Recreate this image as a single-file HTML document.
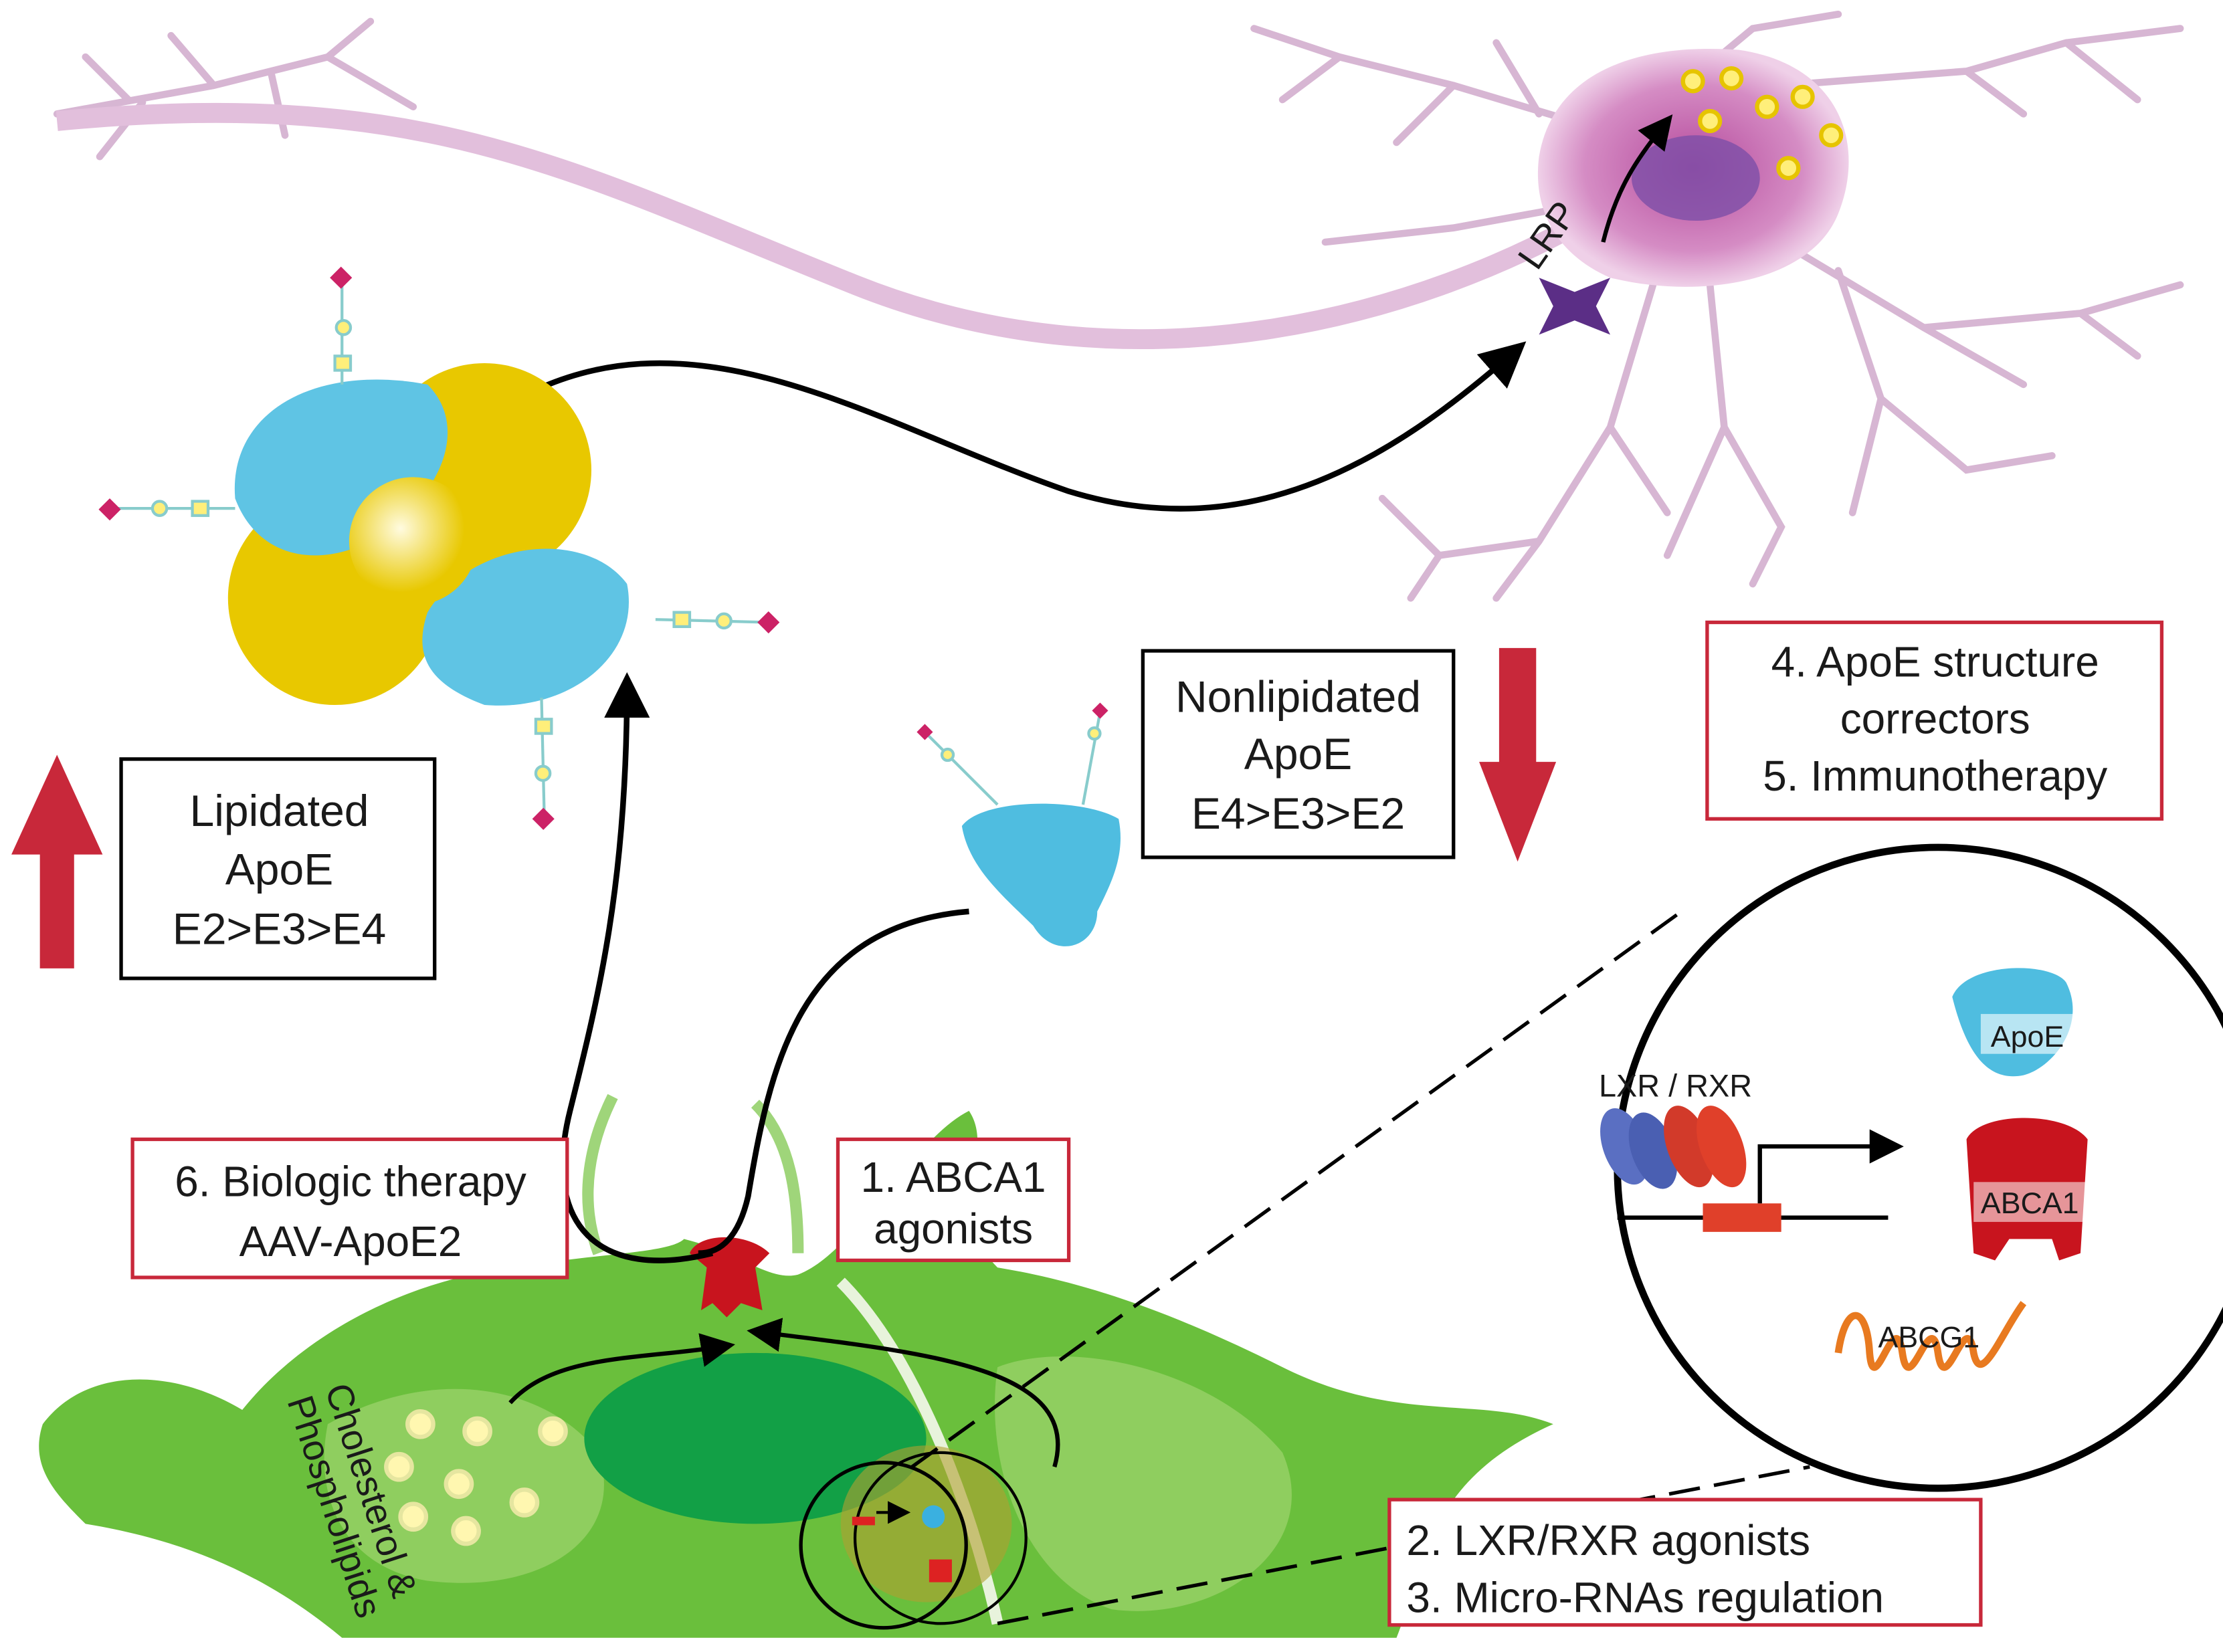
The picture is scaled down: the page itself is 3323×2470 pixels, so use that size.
<!DOCTYPE html>
<html><head><meta charset="utf-8"><style>
html,body{margin:0;padding:0;background:#fff;}
svg{display:block;width:3323px;height:2470px;}
text{font-family:"Liberation Sans",sans-serif;fill:#1a1a1a;}
</style></head><body>
<svg viewBox="0 0 1560 1160" preserveAspectRatio="none" xmlns="http://www.w3.org/2000/svg">
<defs>
<marker id="ah" markerWidth="8" markerHeight="8" refX="6" refY="4" orient="auto" markerUnits="strokeWidth">
<path d="M0,0 L8,4 L0,8 Z" fill="#000"/></marker>
<radialGradient id="yb" cx="40%" cy="40%"><stop offset="0" stop-color="#fffbe0"/><stop offset="1" stop-color="#e8c800"/></radialGradient>
<radialGradient id="pk" cx="50%" cy="50%"><stop offset="0" stop-color="#b54a9c"/><stop offset="0.7" stop-color="#d58cc4"/><stop offset="1" stop-color="#efd0e8"/></radialGradient>
</defs>
<rect width="1560" height="1160" fill="#fff"/>
<g stroke="#d7b6d3" stroke-width="5" fill="none" stroke-linecap="round">
<path d="M40,80 L150,60 L230,40 M150,60 L120,25 M230,40 L260,15 M230,40 L290,75 M90,70 L60,40 M100,72 L70,110 M190,50 L200,95"/>
<path d="M1120,90 L1020,60 L940,40 M1020,60 L980,100 M940,40 L880,20 M940,40 L900,70 M1080,80 L1050,30 M1130,140 L1020,160 L930,170"/>
<path d="M1200,45 L1230,20 L1290,10 M1250,60 L1380,50 L1450,30 M1380,50 L1420,80 M1450,30 L1530,20 M1450,30 L1500,70"/>
<path d="M1250,170 L1350,230 L1460,220 L1530,200 M1350,230 L1420,270 M1460,220 L1500,250 M1290,190 L1320,280 L1300,360 M1320,280 L1380,330 L1440,320"/>
<path d="M1160,200 L1130,300 L1080,380 L1050,420 M1130,300 L1170,360 M1080,380 L1010,390 L970,350 M1010,390 L990,420"/>
<path d="M1200,200 L1210,300 L1250,370 L1230,410 M1210,300 L1170,390"/>
</g>
<path d="M40,85 C300,60 400,120 600,200 C800,280 1000,220 1120,150" stroke="#e2bfdc" stroke-width="14" fill="none"/>
<path d="M1080,110 C1090,50 1150,30 1220,35 C1290,45 1310,100 1290,150 C1270,200 1190,210 1130,195 C1095,180 1075,150 1080,110Z" fill="url(#pk)"/>
<ellipse cx="1190" cy="125" rx="45" ry="30" fill="#7d4fa7" opacity="0.8"/>
<g fill="#ffef7a" stroke="#e6c400" stroke-width="3">
<circle cx="1188" cy="57" r="7"/><circle cx="1215" cy="55" r="7"/><circle cx="1240" cy="75" r="7"/><circle cx="1265" cy="68" r="7"/><circle cx="1200" cy="85" r="7"/><circle cx="1285" cy="95" r="7"/><circle cx="1255" cy="118" r="7"/>
</g>
<path d="M1080,195 L1105,205 L1130,195 L1120,215 L1130,235 L1105,225 L1080,235 L1090,215Z" fill="#5b2e86"/>
<text x="1060" y="185" font-size="26" transform="rotate(-55 1075 170)">LRP</text>
<path d="M1125,170 C1135,130 1150,110 1170,85" stroke="#000" stroke-width="3" fill="none" marker-end="url(#ah)"/>
<path d="M380,272 C500,220 620,300 750,345 C880,385 980,320 1065,245" stroke="#000" stroke-width="4" fill="none" marker-end="url(#ah)"/>
<g>
<circle cx="340" cy="330" r="75" fill="#e8c800"/>
<circle cx="235" cy="420" r="75" fill="#e8c800"/>
<path d="M165,350 C160,290 220,255 300,270 C330,300 310,350 260,380 C220,400 180,390 165,350Z" fill="#5fc4e4"/>
<path d="M300,430 C330,380 410,370 440,410 C450,460 400,500 340,495 C300,480 290,460 300,430Z" fill="#5fc4e4"/>
<circle cx="290" cy="380" r="45" fill="url(#yb)"/>
</g>
<g stroke="#8cc" stroke-width="2" fill="#ffef7a">
<line x1="240" y1="270" x2="240" y2="195"/><line x1="75" y1="357" x2="165" y2="357"/><line x1="460" y1="435" x2="540" y2="437"/><line x1="380" y1="490" x2="382" y2="575"/>
<circle cx="241" cy="230" r="5"/><rect x="235" y="250" width="11" height="10"/><circle cx="112" cy="357" r="5"/><rect x="135" y="352" width="11" height="10"/><circle cx="508" cy="436" r="5"/><rect x="473" y="430" width="11" height="10"/><circle cx="381" cy="543" r="5"/><rect x="376" y="505" width="11" height="10"/>
</g>
<g fill="#cc2266"><rect x="234" y="190" width="11" height="11" transform="rotate(45 240 195)"/><rect x="72" y="352" width="11" height="11" transform="rotate(45 77 357)"/><rect x="534" y="432" width="11" height="11" transform="rotate(45 540 437)"/><rect x="376" y="570" width="11" height="11" transform="rotate(45 382 575)"/></g>
<path d="M675,580 C690,560 760,560 785,575 C790,600 780,620 770,640 C770,665 740,675 725,650 C705,630 680,610 675,580Z" fill="#4fbde0"/>
<g stroke="#8cc" stroke-width="2" fill="#ffef7a"><line x1="700" y1="565" x2="650" y2="515"/><line x1="760" y1="565" x2="772" y2="500"/><circle cx="665" cy="530" r="4"/><circle cx="768" cy="515" r="4"/></g>
<rect x="645" y="510" width="8" height="8" fill="#cc2266" transform="rotate(45 649 514)"/><rect x="768" y="495" width="8" height="8" fill="#cc2266" transform="rotate(45 772 499)"/>
<path d="M28,680 L28,600 L8,600 L40,530 L72,600 L52,600 L52,680Z" fill="#c8283a"/>
<path d="M1052,455 L1078,455 L1078,535 L1092,535 L1065,605 L1038,535 L1052,535Z" fill="#c8283a"/>
<rect x="85" y="533" width="220" height="154" fill="#fff" stroke="#000" stroke-width="2.5"/>
<text font-size="31" text-anchor="middle"><tspan x="196" y="580">Lipidated</tspan><tspan x="196" y="621">ApoE</tspan><tspan x="196" y="663">E2&gt;E3&gt;E4</tspan></text>
<rect x="802" y="457" width="218" height="145" fill="#fff" stroke="#000" stroke-width="2.5"/>
<text font-size="31" text-anchor="middle"><tspan x="911" y="500">Nonlipidated</tspan><tspan x="911" y="540">ApoE</tspan><tspan x="911" y="582">E4&gt;E3&gt;E2</tspan></text>
<rect x="1198" y="437" width="319" height="138" fill="#fff" stroke="#c8283a" stroke-width="2.5"/>
<text font-size="30" text-anchor="middle"><tspan x="1358" y="475">4. ApoE structure</tspan><tspan x="1358" y="515">correctors</tspan><tspan x="1358" y="555">5. Immunotherapy</tspan></text>
<path d="M30,1000 C60,960 120,960 170,990 C210,940 280,900 360,890 C420,880 470,880 480,870 C520,880 540,900 560,895 C600,880 640,800 680,780 C700,810 660,850 700,890 C760,900 820,920 900,960 C980,1000 1040,980 1090,1000 C1000,1040 1000,1100 980,1150 L240,1150 C180,1100 120,1080 60,1070 C40,1050 20,1030 30,1000Z" fill="#6abf3c"/>
<path d="M420,880 C405,840 415,800 430,770 M560,880 C560,840 555,800 530,775" stroke="#9fd57a" stroke-width="8" fill="none"/>
<path d="M230,1000 C300,960 380,970 420,1020 C440,1080 380,1120 300,1110 C240,1100 220,1050 230,1000Z" fill="#8fce5f"/>
<path d="M700,960 C750,940 850,960 900,1020 C930,1090 850,1140 780,1130 C720,1110 690,1030 700,960Z" fill="#8fce5f"/>
<ellipse cx="530" cy="1010" rx="120" ry="60" fill="#12a046"/>
<path d="M590,900 C640,950 680,1050 700,1140" stroke="#e8f3dc" stroke-width="8" fill="none"/>
<g fill="#fff7b0" stroke="#e6e6a0" stroke-width="3">
<circle cx="295" cy="1000" r="9"/><circle cx="335" cy="1005" r="9"/><circle cx="280" cy="1030" r="9"/><circle cx="322" cy="1042" r="9"/><circle cx="290" cy="1065" r="9"/><circle cx="368" cy="1055" r="9"/><circle cx="327" cy="1075" r="9"/><circle cx="388" cy="1005" r="9"/></g>
<text font-size="26" transform="translate(228,975) rotate(72)"><tspan x="0" y="0">Cholesterol &amp;</tspan><tspan x="0" y="28">Phospholipids</tspan></text>
<ellipse cx="650" cy="1070" rx="60" ry="55" fill="#b0a030" opacity="0.6"/>
<circle cx="620" cy="1085" r="58" fill="none" stroke="#000" stroke-width="2.5"/>
<circle cx="660" cy="1080" r="60" fill="none" stroke="#000" stroke-width="2"/>
<rect x="598" y="1065" width="16" height="6" fill="#d22"/><path d="M615,1062 h20" stroke="#000" stroke-width="2" marker-end="url(#ah)"/>
<circle cx="655" cy="1065" r="8" fill="#3ab0e0"/><rect x="652" y="1095" width="16" height="16" fill="#d22"/>
<path d="M484,880 C490,865 525,865 540,880 L530,890 L535,920 L520,915 L510,925 L500,915 L492,920 L496,890Z" fill="#c8141e"/>
<path d="M500,880 C420,900 380,860 400,780 C420,700 440,620 440,480" stroke="#000" stroke-width="4" fill="none" marker-end="url(#ah)"/>
<path d="M680,640 C560,650 540,750 525,840 C518,870 505,880 490,880" stroke="#000" stroke-width="4" fill="none"/>
<path d="M358,985 C390,950 450,955 510,945" stroke="#000" stroke-width="3" fill="none" marker-end="url(#ah)"/>
<path d="M740,1030 C760,960 650,950 530,935" stroke="#000" stroke-width="3" fill="none" marker-end="url(#ah)"/>
<rect x="93" y="800" width="305" height="97" fill="#fff" stroke="#c8283a" stroke-width="2.5"/>
<text font-size="30" text-anchor="middle"><tspan x="246" y="840">6. Biologic therapy</tspan><tspan x="246" y="882">AAV-ApoE2</tspan></text>
<rect x="588" y="800" width="162" height="85" fill="#fff" stroke="#c8283a" stroke-width="2.5"/>
<text font-size="30" text-anchor="middle"><tspan x="669" y="837">1. ABCA1</tspan><tspan x="669" y="873">agonists</tspan></text>
<path d="M640,1030 L1180,640 M700,1140 L1270,1030" stroke="#000" stroke-width="2.5" stroke-dasharray="22,10" fill="none"/>
<circle cx="1360" cy="820" r="225" fill="#fff" stroke="#000" stroke-width="5"/>
<text x="1122" y="770" font-size="22" fill="#555">LXR / RXR</text>
<g><ellipse cx="1140" cy="805" rx="15" ry="28" fill="#5a6fc2" transform="rotate(-20 1140 805)"/><ellipse cx="1160" cy="808" rx="15" ry="28" fill="#4a5fb2" transform="rotate(-20 1160 808)"/><ellipse cx="1185" cy="805" rx="15" ry="30" fill="#d23a2a" transform="rotate(-20 1185 805)"/><ellipse cx="1208" cy="805" rx="15" ry="30" fill="#e0402a" transform="rotate(-20 1208 805)"/></g>
<line x1="1135" y1="855" x2="1325" y2="855" stroke="#000" stroke-width="3"/>
<rect x="1195" y="845" width="55" height="20" fill="#e0402a"/>
<path d="M1235,845 L1235,805 L1330,805" stroke="#000" stroke-width="3" fill="none" marker-end="url(#ah)"/>
<path d="M1370,700 C1380,675 1440,675 1450,690 C1465,720 1440,750 1420,755 C1395,760 1380,740 1370,700Z" fill="#4fbde0"/>
<rect x="1390" y="712" width="70" height="28" fill="#fff" opacity="0.6"/><text x="1397" y="735" font-size="21" fill="#444">ApoE</text>
<path d="M1380,800 C1390,780 1450,780 1465,800 L1460,880 L1445,885 L1440,870 L1410,870 L1400,885 L1385,880Z" fill="#c8141e"/>
<rect x="1385" y="830" width="80" height="28" fill="#fff" opacity="0.55"/><text x="1390" y="852" font-size="21" fill="#444">ABCA1</text>
<path d="M1290,950 C1295,915 1310,915 1312,950 C1315,985 1330,915 1335,950 C1340,985 1355,915 1360,950 C1365,985 1380,915 1385,950 C1390,975 1405,935 1420,915" stroke="#e87a20" stroke-width="5" fill="none"/>
<text x="1318" y="946" font-size="21" fill="#444">ABCG1</text>
<rect x="975" y="1053" width="415" height="88" fill="#fff" stroke="#c8283a" stroke-width="2.5"/>
<text font-size="30"><tspan x="987" y="1092">2. LXR/RXR agonists</tspan><tspan x="987" y="1132">3. Micro-RNAs regulation</tspan></text>
</svg>
</body></html>
